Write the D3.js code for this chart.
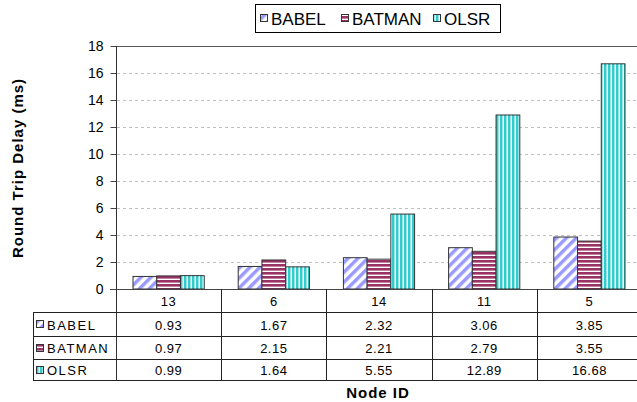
<!DOCTYPE html>
<html>
<head>
<meta charset="utf-8">
<script src="https://cdn.jsdelivr.net/npm/d3@7"></script>
<style>
  body { margin: 0; background: #fff; }
  svg { display: block; font-family: "Liberation Sans", Arial, sans-serif; }
</style>
</head>
<body>
<svg></svg>
<script>
// canvas size
const w = 637;
const h = 402;

// data
const nodes = ["13", "6", "14", "11", "5"];
const series = ["BABEL", "BATMAN", "OLSR"];
const babel = [0.93, 1.67, 2.32, 3.06, 3.85];
const batman = [0.97, 2.15, 2.21, 2.79, 3.55];
const olsr = [0.99, 1.64, 5.55, 12.89, 16.68];
const yTicks = [0, 2, 4, 6, 8, 10, 12, 14, 16, 18];

const values = [babel, batman, olsr];
const colors = ["#9999ff", "#993366", "#33cccc"];

// plot area
const plotLeft = 116;
const plotRight = 642;
const plotTop = 46;
const plotBottom = 289;

const svg = d3.select("svg")
              .attr("width", w)
              .attr("height", h);

// patterns for the bars
const defs = svg.append("defs");

const pBabel = defs.append("pattern")
                   .attr("id", "p0")
                   .attr("patternUnits", "userSpaceOnUse")
                   .attr("width", 7).attr("height", 7)
                   .attr("patternTransform", "rotate(45)");
pBabel.append("rect").attr("width", 7).attr("height", 7).attr("fill", "#fff");
pBabel.append("rect").attr("width", 3.5).attr("height", 7).attr("fill", colors[0]);

const pBatman = defs.append("pattern")
                    .attr("id", "p1")
                    .attr("patternUnits", "userSpaceOnUse")
                    .attr("width", 6).attr("height", 4);
pBatman.append("rect").attr("width", 6).attr("height", 4).attr("fill", "#fff");
pBatman.append("rect").attr("width", 6).attr("height", 2.6).attr("fill", colors[1]);

const pOlsr = defs.append("pattern")
                  .attr("id", "p2")
                  .attr("patternUnits", "userSpaceOnUse")
                  .attr("width", 4).attr("height", 6);
pOlsr.append("rect").attr("width", 4).attr("height", 6).attr("fill", "#fff");
pOlsr.append("rect").attr("width", 2.5).attr("height", 6).attr("fill", colors[2]);

// scales
const xScale = d3.scaleBand()
                 .domain(nodes)
                 .range([plotLeft, plotRight]);

const xInner = d3.scaleBand()
                 .domain(series)
                 .range([17, xScale.bandwidth() - 17]);

const yScale = d3.scaleLinear()
                 .domain([0, 18])
                 .range([plotBottom, plotTop]);

// dashed grid lines
svg.append("g")
   .selectAll("line")
   .data(yTicks.filter(t => t > 0 && t < 18))
   .enter()
   .append("line")
   .attr("x1", plotLeft + 1)
   .attr("x2", plotRight)
   .attr("y1", d => Math.round(yScale(d)) + 0.5)
   .attr("y2", d => Math.round(yScale(d)) + 0.5)
   .attr("stroke", "#c0c0c0")
   .attr("stroke-dasharray", "3,3");

// top border of the plot
svg.append("line")
   .attr("x1", plotLeft).attr("x2", plotRight)
   .attr("y1", plotTop + 0.5).attr("y2", plotTop + 0.5)
   .attr("stroke", "#555");

// y-axis
const yAxis = d3.axisLeft(yScale)
                .tickValues(yTicks)
                .tickSize(6)
                .tickSizeOuter(0)
                .tickPadding(7);

svg.append("g")
   .attr("id", "y-axis")
   .attr("transform", "translate(" + (plotLeft + 0.5) + ", 0)")
   .call(yAxis)
   .call(g => g.select(".domain").remove())
   .call(g => g.selectAll("line").attr("stroke", "#444"))
   .call(g => g.selectAll("text")
               .attr("font-size", 14)
               .attr("font-family", "Liberation Sans, Arial, sans-serif")
               .attr("fill", "#000"));

// bars
values.forEach((vals, si) => {
    svg.append("g")
       .selectAll("rect")
       .data(vals)
       .enter()
       .append("rect")
       .attr("x", (v, i) => xScale(nodes[i]) + xInner(series[si]))
       .attr("y", v => yScale(v))
       .attr("width", xInner.bandwidth())
       .attr("height", v => plotBottom - yScale(v))
       .attr("fill", "url(#p" + si + ")")
       .attr("stroke", "#333")
       .attr("stroke-width", 1);
});

// data table below the plot
const rowY = [289, 312, 336, 359, 380];
const tableLeft = 33;

// x axis line at 0
svg.append("line")
   .attr("x1", plotLeft - 6).attr("x2", plotRight)
   .attr("y1", plotBottom + 0.5).attr("y2", plotBottom + 0.5)
   .attr("stroke", "#444");

// y-axis line from top down to table bottom
svg.append("line")
   .attr("x1", plotLeft + 0.5).attr("x2", plotLeft + 0.5)
   .attr("y1", plotTop).attr("y2", rowY[4])
   .attr("stroke", "#333");

// horizontal table lines
svg.append("g")
   .selectAll("line")
   .data(rowY.slice(1))
   .enter()
   .append("line")
   .attr("x1", tableLeft)
   .attr("x2", plotRight)
   .attr("y1", d => d + 0.5)
   .attr("y2", d => d + 0.5)
   .attr("stroke", "#222");

// vertical table lines at category boundaries
svg.append("g")
   .selectAll("line")
   .data(nodes.slice(1))
   .enter()
   .append("line")
   .attr("x1", d => Math.round(xScale(d)) + 0.5)
   .attr("x2", d => Math.round(xScale(d)) + 0.5)
   .attr("y1", plotBottom)
   .attr("y2", rowY[4])
   .attr("stroke", "#222");

// left edge of the table
svg.append("line")
   .attr("x1", tableLeft + 0.5).attr("x2", tableLeft + 0.5)
   .attr("y1", rowY[1]).attr("y2", rowY[4])
   .attr("stroke", "#222");

// category labels
svg.append("g")
   .selectAll("text")
   .data(nodes)
   .enter()
   .append("text")
   .attr("x", d => xScale(d) + xScale.bandwidth() / 2)
   .attr("y", (rowY[0] + rowY[1]) / 2 + 1)
   .attr("dy", "0.36em")
   .attr("text-anchor", "middle")
   .attr("font-size", 13)
   .attr("letter-spacing", 0.5)
   .text(d => d);

// value rows
values.forEach((vals, si) => {
    const cy = (rowY[si + 1] + rowY[si + 2]) / 2 + 1;
    svg.append("g")
       .selectAll("text")
       .data(vals)
       .enter()
       .append("text")
       .attr("x", (v, i) => xScale(nodes[i]) + xScale.bandwidth() / 2)
       .attr("y", cy)
       .attr("dy", "0.36em")
       .attr("text-anchor", "middle")
       .attr("font-size", 13)
       .attr("letter-spacing", 0.5)
       .text(v => v.toFixed(2));

    // legend key in the table
    svg.append("rect")
       .attr("x", tableLeft + 3.5)
       .attr("y", Math.round(cy) - 4.5)
       .attr("width", 7).attr("height", 7)
       .attr("fill", "url(#p" + si + ")")
       .attr("stroke", "#333");
    svg.append("text")
       .attr("x", tableLeft + 14)
       .attr("y", cy)
       .attr("dy", "0.36em")
       .attr("font-size", 13)
       .attr("letter-spacing", 1.5)
       .text(series[si]);
});

// legend at the top
const legendItems = [
    { x: 260, tx: 271 },
    { x: 341, tx: 352 },
    { x: 433, tx: 444 }
];

svg.append("rect")
   .attr("x", 255.5).attr("y", 4.5)
   .attr("width", 245).attr("height", 28)
   .attr("fill", "#fff")
   .attr("stroke", "#000");

series.forEach((s, si) => {
    svg.append("rect")
       .attr("x", legendItems[si].x + 0.5)
       .attr("y", 14.5)
       .attr("width", 7).attr("height", 7)
       .attr("fill", "url(#p" + si + ")")
       .attr("stroke", "#333");
    svg.append("text")
       .attr("x", legendItems[si].tx)
       .attr("y", 18.5)
       .attr("dy", "0.36em")
       .attr("font-size", 17)
       .text(s);
});

// axis titles
svg.append("text")
   .attr("transform", "translate(23, 168) rotate(-90)")
   .attr("text-anchor", "middle")
   .attr("font-size", 15)
   .attr("font-weight", "bold")
   .attr("letter-spacing", 1)
   .text("Round Trip Delay (ms)");

svg.append("text")
   .attr("x", 378)
   .attr("y", 398)
   .attr("text-anchor", "middle")
   .attr("font-size", 15)
   .attr("font-weight", "bold")
   .attr("letter-spacing", 1)
   .text("Node ID");
</script>
</body>
</html>
